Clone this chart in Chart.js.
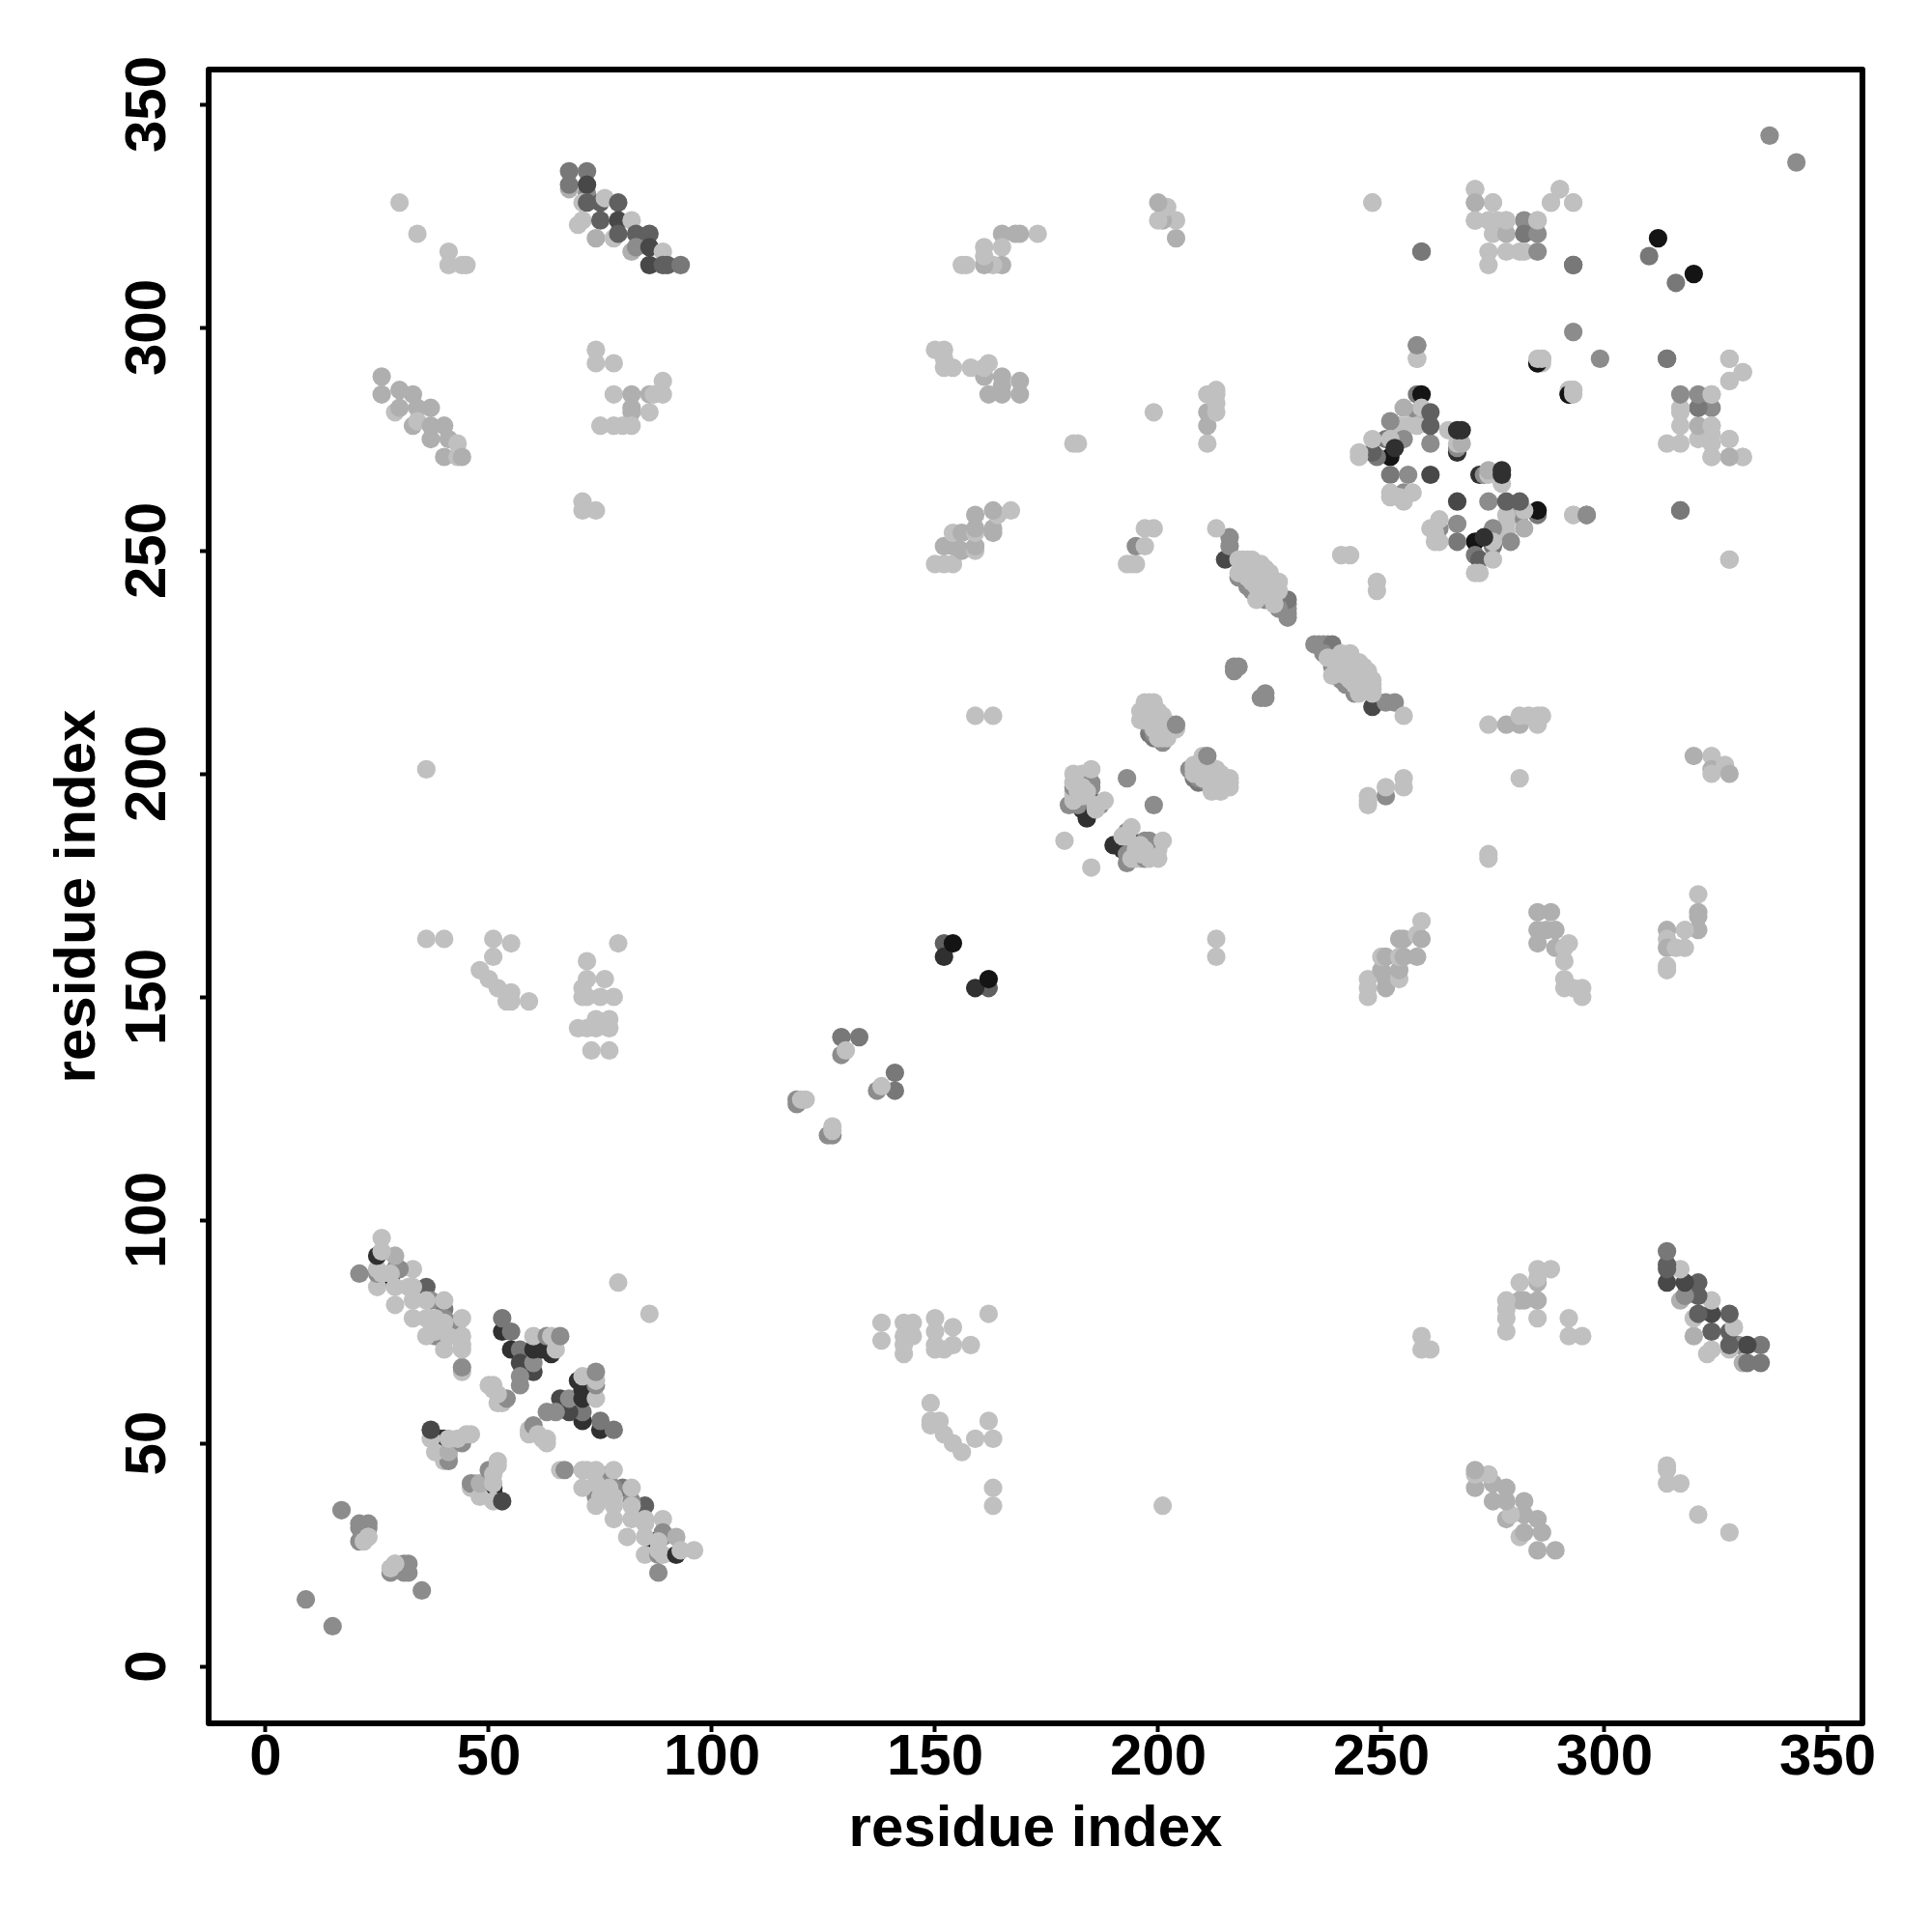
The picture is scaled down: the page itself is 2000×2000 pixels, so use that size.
<!DOCTYPE html>
<html>
<head>
<meta charset="utf-8">
<script src="https://cdn.jsdelivr.net/npm/chart.js@4/dist/chart.umd.min.js"></script>
<style>
  html, body { margin: 0; background: #fff; }
  canvas { display: block; }
</style>
</head>
<body>
<canvas id="contactMap" width="2000" height="2000"></canvas>
<script>
// contacts are [residue a, residue b, score]; every one is plotted at (a,b) and (b,a)
const tickValues = [0, 50, 100, 150, 200, 250, 300, 350];
const scoreShades = ['', '#c0c0c0', '#afafaf', '#8c8c8c', '#787878', '#606060', '#484848', '#303030', '#141414'];

const nearEnds = [[15,9,3],[35,17,3],[31,21,3],[32,21,3],[28,21,3],[31,23,3],[32,23,3],[29,23,1],[28,22,1],[23,29,1]];

const southArm = [[88,21,3],[87,28,8],[85,36,5],[80,40,4],[82,37,3],[78,40,3],[77,43,3],[74,40,3],[74,38,3],
  [66,44,1],[67,44,3],[71,44,1],[72,44,1],[74,44,1],[78,44,1],[71,40,1],[74,41,1],[75,38,1],[77,40,1],[78,38,1],
  [74,36,1],[78,36,1],[78,33,1],[82,40,1],[81,29,1],[82,33,1],[82,36,1],[85,33,1],[85,32,1],[85,29,1],[89,33,1],[85,25,1],
  [88,25,3],[89,25,1],[89,30,3],[89,29,3],[88,28,1],[92,29,2],[92,25,7],[88,26,1],[93,26,1],[96,26,1]];

const crossNorth = [[75,53,7],[78,53,4],[75,55,4],[71,55,7],[71,57,4],[68,57,6],[66,60,6],[68,60,3],[63,57,3],[65,57,3],
  [70,64,7],[71,62,7],[71,60,7],[74,60,1],[74,63,3],[74,64,1],[71,65,1],[74,66,3]];
const crossMiddle = [[59,52,1],[59,53,1],[60,54,3],[61,52,1],[62,51,1],[63,51,1],[63,50,1]];
const crossSouth = [[51,39,7],[51,40,7],[46,40,1],[47,41,1],[46,41,3],[48,38,1],[48,41,2],[51,37,1],[51,41,1],[50,44,3],
  [51,43,1],[52,45,1],[52,46,1],[53,37,6]];

const blockTopStrand = [[68,335,4],[72,335,4],[68,331,2],[68,332,4],[72,330,3],[72,332,6],[71,328,1],[72,328,5],[75,328,5],
  [76,329,1],[79,328,5],[71,324,1],[70,323,1],[75,324,5],[79,324,6],[82,324,1],[74,320,2],[78,320,1],[79,321,5],[83,321,5],
  [86,321,5],[82,317,2],[83,318,3],[86,318,6],[89,317,1],[86,314,6],[89,314,5],[90,314,5],[93,314,4]];
const blockStrandC = [[26,289,2],[26,285,2],[30,286,2],[33,285,2],[29,281,1],[30,282,2],[34,282,2],[37,282,2],[33,278,2],
  [34,279,1],[37,278,2],[40,278,2],[37,275,2],[41,275,2],[43,274,1],[40,271,2],[43,271,1],[44,271,2]];
const blockStrandD = [[74,295,1],[74,292,1],[78,292,1],[89,288,1],[89,285,1],[78,285,1],[82,285,2],[86,285,2],[87,285,1],
  [82,282,2],[82,281,2],[86,281,1],[75,278,1],[78,278,1],[80,278,1],[82,278,1],[71,261,1],[71,259,1],[74,259,1]];
const scattered = [[30,328,1],[34,321,1],[41,317,1],[41,314,1],[44,314,1],[45,314,1],[36,201,1],[86,79,1]];

const blockMidLeft = [[36,163,1],[40,163,1],[51,163,1],[55,162,1],[51,159,1],[48,156,1],[50,154,1],[52,152,1],[55,151,1],
  [54,149,1],[55,149,1],[59,149,1],[72,158,1],[79,162,1],[71,152,1],[71,150,1],[72,154,1],[76,154,1],[78,150,1],[72,150,1],
  [75,150,1],[70,143,1],[72,143,1],[74,145,1],[77,145,1],[74,143,1],[77,143,1],[73,138,1],[77,138,1]];

const centreRun = [[126,119,3],[127,119,3],[127,120,1],[127,121,1],[141,129,4],[141,133,4],[137,129,3],[138,130,1],
  [152,162,5],[152,159,7],[154,162,8]];

const clusterP = [[184,190,7],[183,192,7],[183,194,7],[185,194,6],[180,193,3],[182,193,3],[181,194,1],[181,195,1],[181,196,1],
  [181,197,3],[182,196,1],[181,198,1],[182,199,1],[181,200,1],[183,200,1],[185,197,3],[185,198,3],[185,201,1],[184,196,1],
  [183,197,1],[183,195,1],[187,193,3],[186,192,1],[186,193,1],[188,194,1],[193,199,3],[185,179,1]];
const clusterN = [[199,208,4],[198,209,4],[199,209,3],[201,207,3],[198,211,3],[197,216,1],[198,216,1],[199,216,1],[196,214,1],
  [197,214,1],[198,215,1],[199,214,1],[200,214,1],[201,213,1],[196,212,1],[197,212,1],[198,212,1],[199,212,1],[200,211,1],
  [201,212,1],[202,211,1],[203,211,1],[203,210,1],[204,210,1],[202,209,1],[200,209,1],[201,209,1],[199,210,1],[201,208,1],
  [200,208,1],[202,208,1],[204,211,3]];
const pairBlobs = [[223,217,3],[224,217,3],[224,218,3]];
const helixBand = [[235,229,3],[236,229,3],[237,229,3],[238,229,3],[239,229,4],[237,227,3],[239,224,3],[240,223,3],[241,221,3],
  [242,220,3],[244,218,3],[248,215,6],[251,216,3],[253,216,3],[238,226,1],[239,222,1],[240,226,1],[241,227,1],[243,227,1],
  [242,225,1],[244,225,1],[245,225,1],[246,224,1],[247,223,1],[247,222,1],[248,221,1],[248,220,1],[248,219,1],[248,218,1],
  [240,224,1],[242,222,1],[244,223,1],[246,221,1],[244,220,1],[246,219,1],[245,219,1],[243,221,1],[241,224,1],[243,224,1],
  [245,222,1],[246,223,1],[244,221,1],[247,220,1],[247,219,1],[245,218,1],[255,213,1]];

const blockR = [[247,193,1],[247,194,1],[247,195,1],[251,195,3],[251,197,1],[255,197,1],[255,199,1]];
const blockS = [[213,159,1],[213,163,1],[249,241,1],[249,243,1]];
const blockT = [[247,150,1],[247,152,1],[247,154,1],[251,152,2],[251,154,2],[250,156,2],[254,154,1],[254,156,2],[250,159,1],
  [251,159,2],[254,159,1],[255,159,2],[258,159,2],[254,163,2],[255,163,2],[258,164,1],[259,163,2],[259,167,1]];
const blockU = [[285,169,2],[288,169,2],[285,165,2],[287,165,2],[289,165,2],[285,162,2],[289,161,2],[291,161,1],[292,162,1],
  [291,158,1],[291,154,1],[291,152,1],[293,152,1],[295,152,1],[295,150,1]];
const blockV = [[321,173,1],[321,168,2],[321,169,2],[321,165,2],[318,165,1],[314,165,2],[314,163,1],[314,161,2],[316,161,1],
  [318,161,1],[314,157,1],[314,156,1]];
const blockW = [[274,211,1],[278,211,2],[281,211,2],[285,211,1],[281,213,1],[283,213,1],[285,213,1],[286,213,1],[281,199,1],
  [274,181,1],[274,182,1]];
const blockX = [[320,204,2],[324,204,1],[324,201,2],[324,200,1],[327,202,1],[328,200,2]];

const blockTopRight = [[248,328,1],[271,331,1],[271,328,2],[275,328,1],[290,331,1],[288,328,1],[293,328,1],[271,324,1],[274,324,1],
  [276,324,1],[278,324,1],[282,324,3],[285,324,1],[275,321,1],[278,321,2],[282,321,4],[285,321,3],[274,317,1],[274,314,1],
  [278,317,1],[281,317,1],[282,317,1],[285,317,3],[259,317,4],[293,314,4],[310,316,4],[312,320,8],[293,299,3],[314,293,4],
  [328,293,1],[331,290,1],[328,288,1],[324,285,1],[258,296,4],[258,293,1],[285,292,8],[286,293,2],[286,292,1],[292,285,8],
  [293,285,1],[293,286,1],[328,275,1],[324,278,1],[331,271,1],[328,271,2],[324,271,1],[328,248,1],[293,258,1],[296,258,3],
  [317,259,4],[337,343,3]];

const blockDiamond = [[285,258,4],[285,259,8],[281,258,3],[282,259,1],[282,255,2],[278,258,1],[278,256,1],[278,254,1],[275,255,3],
  [279,252,3],[275,251,4],[275,252,1],[271,252,8],[273,253,7],[267,256,3],[267,252,4],[263,255,3],[263,257,1],[261,255,1],
  [262,252,1],[263,252,1],[262,254,1],[271,249,4],[272,248,5],[275,248,1],[271,245,1],[272,245,1],[274,261,3],[278,261,5],
  [281,261,5],[267,261,6],[277,265,1],[272,267,7],[273,267,3],[274,267,1],[274,268,2],[277,267,7],[277,268,7]];

const contactGroups = [nearEnds, southArm, crossNorth, crossMiddle, crossSouth, blockTopStrand, blockStrandC, blockStrandD,
  scattered, blockMidLeft, centreRun, clusterP, clusterN, pairBlobs, helixBand, blockR, blockS, blockT, blockU, blockV,
  blockW, blockX, blockTopRight, blockDiamond];

const points = [];
const colors = [];
contactGroups.forEach(group => group.forEach(([a, b, score]) => {
  points.push({ x: a, y: b });
  colors.push(scoreShades[score]);
  points.push({ x: b, y: a });
  colors.push(scoreShades[score]);
}));

const TICK_FONT = { family: '"Liberation Sans", Arial, sans-serif', size: 60, weight: 'bold' };
const TITLE_FONT = { family: '"Liberation Sans", Arial, sans-serif', size: 60, weight: 'bold' };

const frame = {
  id: 'frame',
  afterDatasetsDraw(chart) {
    const { ctx, chartArea: a } = chart;
    ctx.save();
    ctx.strokeStyle = '#000';
    ctx.lineWidth = 6;
    ctx.lineJoin = 'round';
    ctx.strokeRect(a.left, a.top, a.right - a.left, a.bottom - a.top);
    ctx.restore();
  },
};

new Chart(document.getElementById('contactMap'), {
  type: 'scatter',
  data: {
    datasets: [{
      data: points,
      backgroundColor: colors,
      borderWidth: 0,
      pointRadius: 9.6,
      clip: false,
    }],
  },
  plugins: [frame],
  options: {
    responsive: false,
    animation: false,
    layout: { padding: { top: 72, right: 72, left: 0, bottom: 0 } },
    plugins: { legend: { display: false }, tooltip: { enabled: false } },
    scales: {
      x: {
        min: -12.77,
        max: 357.8,
        afterFit: s => { s.height = 216; },
        afterBuildTicks: s => { s.ticks = tickValues.map(value => ({ value })); },
        grid: { drawOnChartArea: false, tickLength: 9, tickWidth: 4, tickColor: '#000' },
        border: { display: false },
        ticks: { color: '#000', font: TICK_FONT, padding: -9, maxRotation: 0, autoSkip: false },
        title: { display: true, text: 'residue index', color: '#000', font: TITLE_FONT, padding: { top: 0, bottom: 70 } },
      },
      y: {
        min: -12.77,
        max: 357.8,
        afterFit: s => { s.width = 216; },
        afterBuildTicks: s => { s.ticks = tickValues.map(value => ({ value })); },
        grid: { drawOnChartArea: false, tickLength: 9, tickWidth: 4, tickColor: '#000' },
        border: { display: false },
        ticks: { color: '#000', font: TICK_FONT, padding: 2.5, minRotation: 90, maxRotation: 90, crossAlign: 'center', autoSkip: false },
        title: { display: true, text: 'residue index', color: '#000', font: TITLE_FONT, padding: { top: 45, bottom: 0 } },
      },
    },
  },
});
</script>
</body>
</html>
